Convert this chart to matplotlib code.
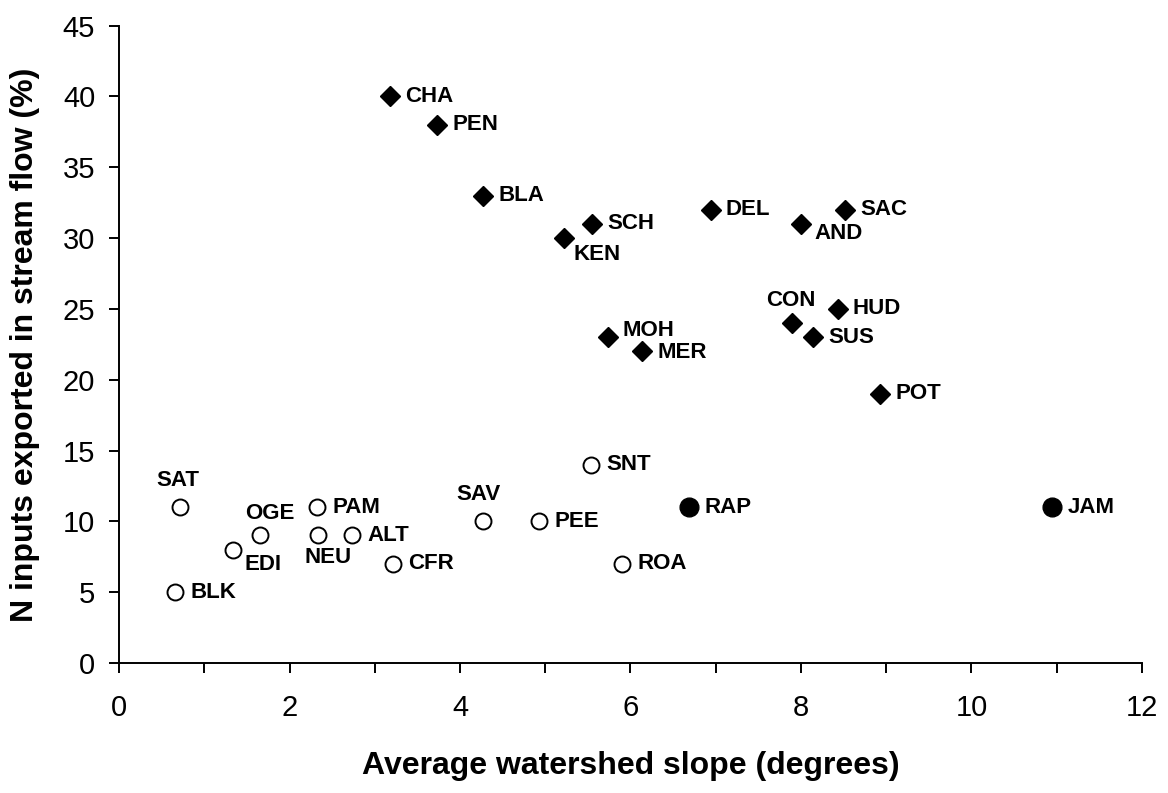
import matplotlib
matplotlib.use("Agg")
import matplotlib.pyplot as plt
from matplotlib.ticker import MultipleLocator

plt.rcParams['font.family'] = ['Liberation Sans', 'DejaVu Sans']

# Filled diamonds
dia_names = ["CHA", "PEN", "BLA", "SCH", "KEN", "DEL", "AND", "SAC", "CON", "HUD", "SUS", "MOH", "MER", "POT"]
dia_x = [3.18, 3.73, 4.27, 5.55, 5.22, 6.94, 8.00, 8.52, 7.90, 8.43, 8.14, 5.74, 6.14, 8.93]
dia_y = [40, 38, 33, 31, 30, 32, 31, 32, 24, 25, 23, 23, 22, 19]

# Open circles
open_names = ["SAT", "BLK", "EDI", "OGE", "PAM", "NEU", "ALT", "CFR", "SAV", "PEE", "SNT", "ROA"]
open_x = [0.72, 0.66, 1.34, 1.65, 2.32, 2.34, 2.73, 3.21, 4.27, 4.93, 5.54, 5.90]
open_y = [11, 5, 8, 9, 11, 9, 9, 7, 10, 10, 14, 7]

# Filled circles
fill_names = ["RAP", "JAM"]
fill_x = [6.69, 10.95]
fill_y = [11, 11]

# label placements (offset in points, ha)
special = {
    "KEN": (7, -12, 'left'),
    "AND": (10, -7, 'left'),
    "CON": (-1, 16, 'center'),
    "SAT": (-2, 19, 'center'),
    "OGE": (7, 16, 'center'),
    "EDI": (8, -11, 'left'),
    "NEU": (7, -16, 'center'),
    "SAV": (-3, 19, 'center'),
    "MOH": (10, 5, 'left'),
    "MER": (11, -1, 'left'),
}

fig = plt.figure(figsize=(11.68, 7.93), dpi=100)
ax = fig.add_axes([0.1019, 0.164, 0.9777 - 0.1019, 0.9676 - 0.164])

ax.plot(dia_x, dia_y, linestyle='none', marker='D', ms=10, color='black', zorder=3)
ax.plot(open_x, open_y, linestyle='none', marker='o', ms=11.5, mfc='white', mec='black', mew=1.4, zorder=3)
ax.plot(fill_x, fill_y, linestyle='none', marker='o', ms=13.5, color='black', zorder=3)

def label(names, xs, ys):
    for n, x, y in zip(names, xs, ys):
        dx, dy, ha = special.get(n, (11, 0, 'left'))
        ax.annotate(n, (x, y), xytext=(dx, dy), textcoords='offset points',
                    ha=ha, va='center', fontsize=16, fontweight='bold')

label(dia_names, dia_x, dia_y)
label(open_names, open_x, open_y)
label(fill_names, fill_x, fill_y)

ax.set_xlim(0, 12)
ax.set_ylim(0, 45)
ax.xaxis.set_major_locator(MultipleLocator(2))
ax.xaxis.set_minor_locator(MultipleLocator(1))
ax.yaxis.set_major_locator(MultipleLocator(5))
for s in ['top', 'right']:
    ax.spines[s].set_visible(False)
for s in ['left', 'bottom']:
    ax.spines[s].set_linewidth(1.4)
ax.tick_params(axis='both', which='major', length=7.2, width=1.4, labelsize=21, direction='out')
ax.tick_params(axis='x', which='minor', length=7.2, width=1.4, direction='out')
ax.tick_params(axis='x', which='major', pad=15)
ax.tick_params(axis='y', which='major', pad=10)

ax.set_xlabel('Average watershed slope (degrees)', fontsize=23, fontweight='bold')
ax.set_ylabel('N inputs exported in stream flow (%)', fontsize=23, fontweight='bold')
ax.xaxis.set_label_coords(0.5, -0.138)
ax.yaxis.set_label_coords(-0.077, 0.5)

fig.savefig('out.png', dpi=100)
